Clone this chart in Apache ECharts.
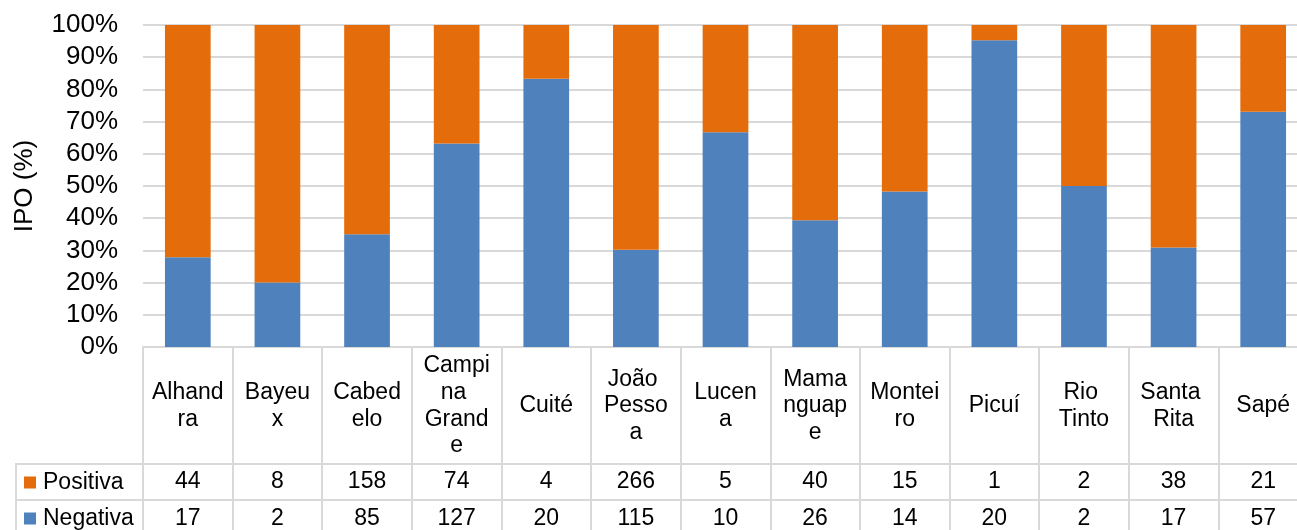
<!DOCTYPE html>
<html>
<head>
<meta charset="utf-8">
<script src="https://cdn.jsdelivr.net/npm/echarts@6/dist/echarts.min.js"></script>
<style>
html,body{margin:0;padding:0;background:#fff;}
#chart{width:1297px;height:530px;}
</style>
</head>
<body>
<div id="chart"></div>
<script>
const categories = ['Alhandra','Bayeux','Cabedelo','Campina Grande','Cuité','João Pessoa','Lucena','Mamanguape','Monteiro','Picuí','Rio Tinto','Santa Rita','Sapé'];
const positiva = [44, 8, 158, 74, 4, 266, 5, 40, 15, 1, 2, 38, 21];
const negativa = [17, 2, 85, 127, 20, 115, 10, 26, 14, 20, 2, 17, 57];
const yTicks = [0, 0.1, 0.2, 0.3, 0.4, 0.5, 0.6, 0.7, 0.8, 0.9, 1];

const negShare = negativa.map((v, i) => v / (v + positiva[i]));
const posShare = positiva.map((v, i) => v / (v + negativa[i]));

const FONT = "'Liberation Sans', Arial, sans-serif";
const GRID_LEFT = 143, GRID_TOP = 25, GRID_H = 322, GRID_W = 1165;
const LINE = '#d9d9d9';
const chart = echarts.init(document.getElementById('chart'), null, {renderer: 'canvas'});

const tableAxis = (arr, margin) => ({
  type: 'category',
  data: categories,
  gridIndex: 0,
  position: 'bottom',
  axisLine: {show: false},
  axisTick: {show: false},
  axisLabel: {
    interval: 0, margin: margin, verticalAlign: 'middle',
    fontFamily: FONT, fontSize: 23, color: '#000',
    formatter: (v, i) => String(arr[i])
  }
});

const legendRow = (name, top) => ({
  data: [name],
  orient: 'vertical',
  left: 24, top: top,
  padding: 0,
  itemWidth: 12, itemHeight: 12,
  icon: 'rect',
  selectedMode: false,
  textStyle: {fontFamily: FONT, fontSize: 23, color: '#000', padding: [0, 0, 0, 2]}
});

chart.setOption({
  animation: false,
  textStyle: {fontFamily: FONT},
  grid: {left: GRID_LEFT, top: GRID_TOP, width: GRID_W, height: GRID_H, containLabel: false, outerBoundsMode: 'none'},
  legend: [legendRow('Positiva', 471), legendRow('Negativa', 507)],
  xAxis: [
    {
      type: 'category',
      data: categories,
      position: 'bottom',
      axisLine: {show: true, lineStyle: {color: LINE, width: 2}},
      axisTick: {show: true, interval: 0, length: 190, lineStyle: {color: LINE, width: 2}},
      axisLabel: {
        interval: 0, margin: 59, verticalAlign: 'middle', align: 'center',
        fontFamily: FONT, fontSize: 23, color: '#000', lineHeight: 26.7,
        width: 74, overflow: 'break'
      }
    },
    tableAxis(positiva, 135),
    tableAxis(negativa, 172)
  ],
  yAxis: {
    type: 'value', min: 0, max: 1, interval: 0.1,
    name: 'IPO (%)', nameLocation: 'middle', nameGap: 105, nameRotate: 90,
    nameTextStyle: {fontFamily: FONT, fontSize: 26, color: '#000'},
    axisLine: {show: false}, axisTick: {show: false},
    axisLabel: {
      margin: 25, fontFamily: FONT, fontSize: 26, color: '#000',
      formatter: v => Math.round(v * 100) + '%'
    },
    splitLine: {lineStyle: {color: LINE, width: 2}}
  },
  series: [
    {name: 'Negativa', type: 'bar', stack: 'total', data: negShare, barWidth: '51%',
     itemStyle: {color: '#4F81BD'}},
    {name: 'Positiva', type: 'bar', stack: 'total', data: posShare, barWidth: '51%',
     itemStyle: {color: '#E46C0A'}}
  ],
  graphic: [
    {type: 'line', shape: {x1: 16, y1: 464, x2: 1310, y2: 464}, style: {stroke: LINE, lineWidth: 2}, silent: true},
    {type: 'line', shape: {x1: 16, y1: 500, x2: 1310, y2: 500}, style: {stroke: LINE, lineWidth: 2}, silent: true},
    {type: 'line', shape: {x1: 16, y1: 463, x2: 16, y2: 540}, style: {stroke: LINE, lineWidth: 2}, silent: true}
  ]
});
</script>
</body>
</html>
